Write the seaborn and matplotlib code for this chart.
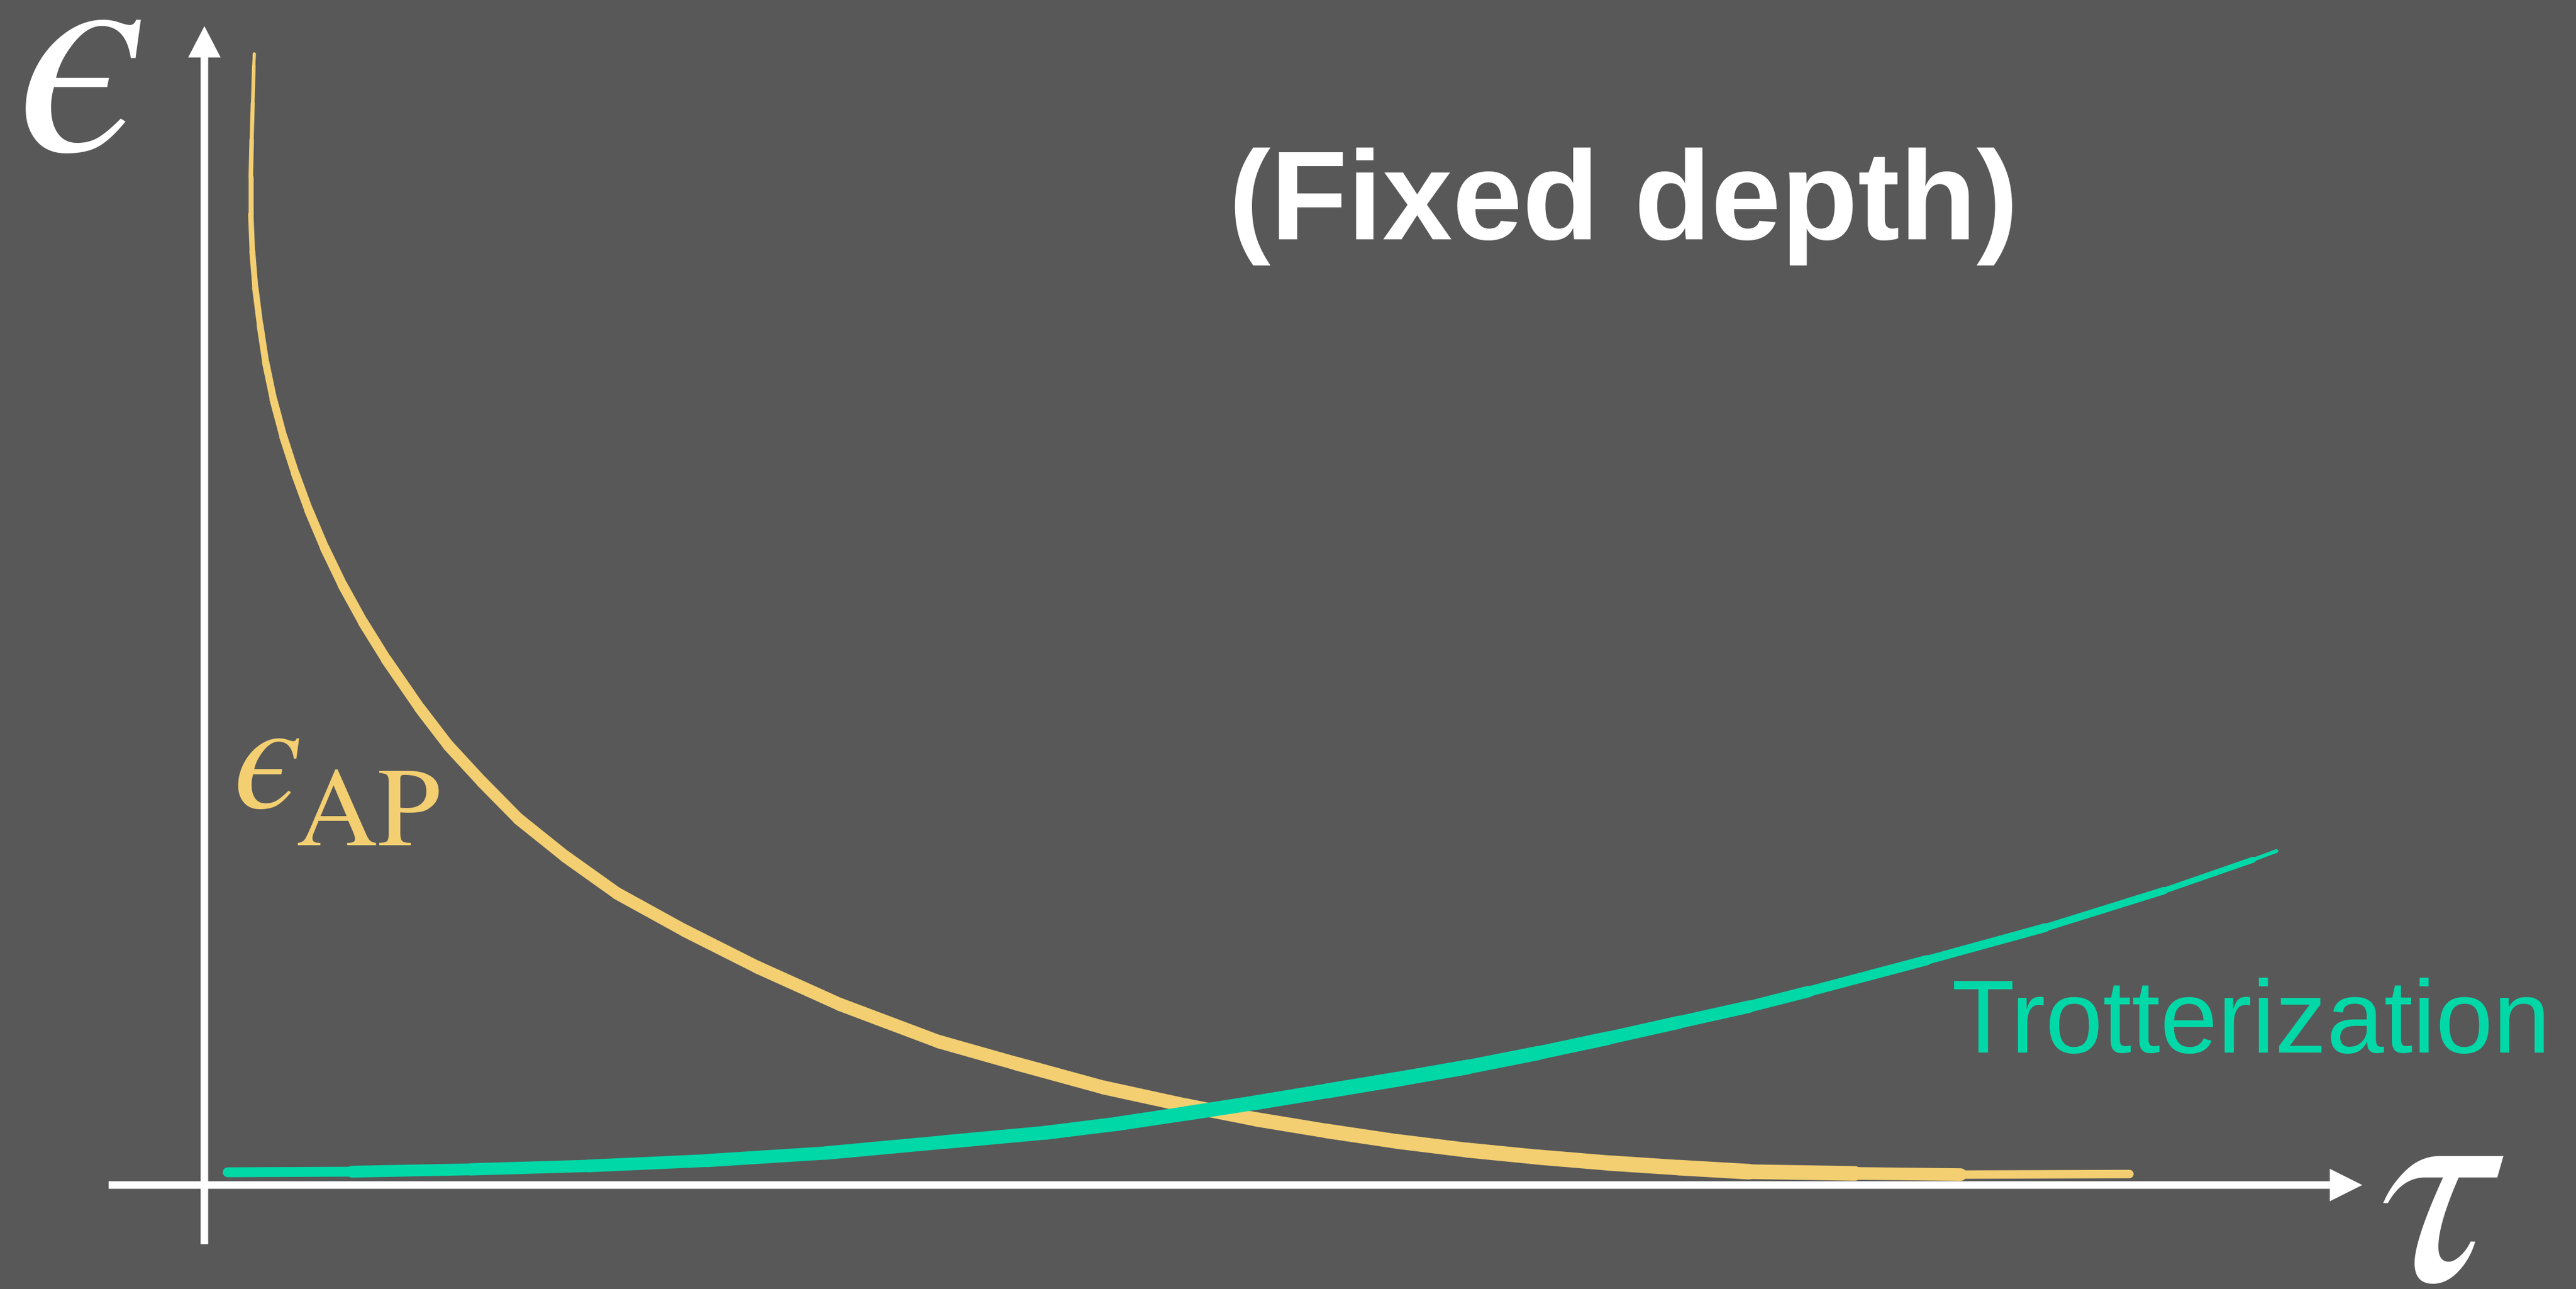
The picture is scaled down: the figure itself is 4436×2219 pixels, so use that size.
import numpy as np
import pandas as pd
import matplotlib
matplotlib.use("Agg")
import matplotlib.pyplot as plt
import seaborn as sns
from matplotlib.collections import LineCollection
from matplotlib.patches import FancyArrow

# Error versus time step tau at fixed circuit depth (arbitrary units, axes run 0..10)
tau_ap = [0.231, 0.229, 0.224, 0.219, 0.215, 0.215, 0.222, 0.236, 0.258, 0.284,
          0.320, 0.366, 0.421, 0.484, 0.557, 0.640, 0.735, 0.842, 0.998, 1.130,
          1.286, 1.456, 1.671, 1.913, 2.226, 2.562, 2.944, 3.402, 3.762, 4.166,
          4.548, 4.876, 5.202, 5.527, 5.853, 6.179, 6.507, 6.833, 7.158, 7.648,
          8.138, 8.921]
eps_ap = [9.760, 9.654, 9.333, 9.018, 8.697, 8.376, 8.055, 7.739, 7.419, 7.098,
          6.777, 6.456, 6.140, 5.820, 5.499, 5.178, 4.857, 4.536, 4.115, 3.794,
          3.479, 3.158, 2.837, 2.516, 2.195, 1.880, 1.559, 1.238, 1.048, 0.842,
          0.687, 0.566, 0.466, 0.376, 0.301, 0.241, 0.190, 0.150, 0.115, 0.100,
          0.090, 0.095]

tau_trotter = [0.108, 0.684, 1.233, 1.782, 2.330, 2.879, 3.431, 3.897, 4.222, 4.548,
               4.876, 5.202, 5.527, 5.853, 6.179, 6.507, 6.833, 7.158, 7.433, 7.982,
               8.531, 9.082, 9.494, 9.602]
eps_trotter = [0.110, 0.115, 0.135, 0.165, 0.211, 0.276, 0.371, 0.451, 0.526, 0.617,
               0.712, 0.812, 0.912, 1.018, 1.138, 1.268, 1.404, 1.539, 1.669, 1.940,
               2.221, 2.541, 2.807, 2.882]

series_names = ["AP", "Trotterization"]

BG = "#585858"
YELLOW = "#f3cf72"
GREEN = "#00d8a8"
WHITE = "#ffffff"

sns.set_theme(style="white")
plt.rcParams["font.family"] = ["Liberation Sans", "DejaVu Sans"]
plt.rcParams["mathtext.fontset"] = "stix"

W, H, DPI = 4436, 2219, 200
PX = 72.0 / DPI  # points per pixel

fig = plt.figure(figsize=(W / DPI, H / DPI), dpi=DPI)
fig.patch.set_facecolor(BG)
ax = fig.add_axes([0, 0, 1, 1])
ax.set_facecolor(BG)

# origin of the sketch axes sits at pixel (352, 2040); 10 units span to each arrow tip
ox, oy = 352, 2040
sx = (4068 - ox) / 10.0
sy = (oy - 45) / 10.0
ax.set_xlim(-ox / sx, (W - ox) / sx)
ax.set_ylim(-(H - oy) / sy, oy / sy)
ax.axis("off")

df = pd.concat([
    pd.DataFrame({"tau": tau_ap, "eps": eps_ap, "curve": series_names[0]}),
    pd.DataFrame({"tau": tau_trotter, "eps": eps_trotter, "curve": series_names[1]}),
], ignore_index=True)

palette = {series_names[0]: YELLOW, series_names[1]: GREEN}
sns.lineplot(data=df, x="tau", y="eps", hue="curve", palette=palette,
             sort=False, estimator=None, lw=5 * PX, legend=False, ax=ax,
             solid_capstyle="round", zorder=3)


def brush(x, y, widths_px, color):
    pts = np.column_stack([x, y])
    segs = np.stack([pts[:-1], pts[1:]], axis=1)
    w = np.asarray(widths_px, dtype=float)
    lw = 0.5 * (w[:-1] + w[1:]) * PX
    lc = LineCollection(segs, colors=color, linewidths=lw, capstyle="round",
                        joinstyle="round", zorder=4)
    ax.add_collection(lc)


# stroke thickness along each curve (pixels), a brush that swells and fades
ap_width = np.interp(np.arange(len(tau_ap)),
                     [0, 5, 10, 18, 25, 32, 38, 40, 41],
                     [5, 9, 13, 19, 22, 25, 27, 20, 9])
tr_width = np.interp(np.arange(len(tau_trotter)),
                     [0, 1, 5, 12, 17, 20, 22, 23],
                     [14, 20, 23, 26, 21, 14, 9, 4])
brush(tau_ap, eps_ap, ap_width, YELLOW)
brush(tau_trotter, eps_trotter, tr_width, GREEN)

# axes drawn as white arrows
shaft = 13
y_start = -(2142 - oy) / sy
x_start = -(ox - 187) / sx
ax.add_patch(FancyArrow(0, y_start, 0, 10 - y_start,
                        width=shaft / sx, head_width=56 / sx, head_length=54 / sy,
                        length_includes_head=True, color=WHITE, lw=0, zorder=5))
ax.add_patch(FancyArrow(x_start, 0, 10 - x_start, 0,
                        width=shaft / sy, head_width=56 / sy, head_length=56 / sx,
                        length_includes_head=True, color=WHITE, lw=0, zorder=5))

# axis symbols
fig.text(28 / W, 1 - 258 / H, "$\u03f5$", color=WHITE, fontsize=183,
         ha="left", va="baseline")
fig.text(4097 / W, 1 - 2204 / H, r"$\tau$", color=WHITE, fontsize=180,
         ha="left", va="baseline")

# curve labels
fig.text(401 / W, 1 - 1390 / H, "$\u03f5$", color=YELLOW,
         fontsize=97, ha="left", va="baseline")
fig.text(509 / W, 1 - 1455 / H, r"$\mathrm{AP}$", color=YELLOW,
         fontsize=70, ha="left", va="baseline")
fig.text(3361 / W, 1 - 1812 / H, "Trotterization", color=GREEN, fontsize=64,
         ha="left", va="baseline")

# title
fig.text(2796 / W, 1 - 412 / H, "(Fixed depth)", color=WHITE, fontsize=78,
         fontweight="bold", ha="center", va="baseline")

fig.savefig("out.png", dpi=DPI, facecolor=BG)
